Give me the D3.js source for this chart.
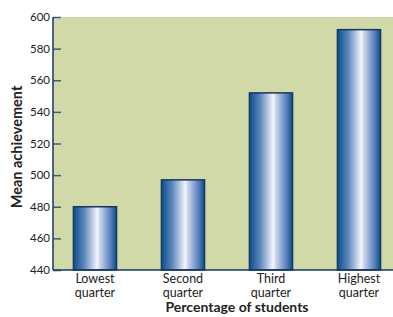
<!DOCTYPE html>
<html>
<head>
<meta charset="utf-8">
<script src="https://cdn.jsdelivr.net/npm/d3@7"></script>
<style>
	body { margin: 0; background: #fff; }
	text { font-family: Lato, "Open Sans", sans-serif; fill: #222; }
</style>
</head>
<body>
<div id="chart"></div>
<script>
var categories = [["Lowest", "quarter"], ["Second", "quarter"], ["Third", "quarter"], ["Highest", "quarter"]];
var values = [480, 497, 552, 592];
var yTicks = [440, 460, 480, 500, 520, 540, 560, 580, 600];

var width = 393,
	height = 317,
	plotLeft = 53,
	plotTop = 17,
	plotBottom = 270,
	plotRight = 393;

var svg = d3.select("#chart").append("svg")
	.attr("width", width)
	.attr("height", height);

var grad = svg.append("defs").append("linearGradient")
	.attr("id", "barGrad")
	.attr("x1", "0%").attr("x2", "100%").attr("y1", "0%").attr("y2", "0%");
[["0%", "#0b4f8f"], ["25%", "#5d86bb"], ["55%", "#f4f6fb"], ["62%", "#c8d3ea"], ["85%", "#5d83bd"], ["100%", "#0b4f8f"]]
	.forEach(function(s) {
		grad.append("stop").attr("offset", s[0]).attr("stop-color", s[1]);
	});

var x = d3.scaleBand()
	.domain(d3.range(categories.length))
	.range([51, 403])
	.paddingInner(0.51)
	.paddingOuter(0.255);

var y = d3.scaleLinear()
	.domain([440, 600])
	.range([plotBottom, plotTop]);

// plot background
svg.append("rect")
	.attr("x", plotLeft)
	.attr("y", plotTop)
	.attr("width", plotRight - plotLeft)
	.attr("height", plotBottom - plotTop)
	.attr("fill", "#d2d9a9");

// bars
svg.selectAll(".bar")
	.data(values)
	.enter().append("rect")
	.attr("class", "bar")
	.attr("x", function(d, i) { return x(i); })
	.attr("y", function(d) { return y(d); })
	.attr("width", x.bandwidth())
	.attr("height", function(d) { return y(440) - y(d); })
	.attr("fill", "url(#barGrad)")
	.attr("stroke", "#17365f")
	.attr("stroke-width", 1.5);

// y axis
var yAxis = svg.append("g")
	.attr("transform", "translate(" + plotLeft + ",0)")
	.call(d3.axisRight(y).tickValues(yTicks).tickSize(8).tickFormat(""));
yAxis.select(".domain").remove();
yAxis.selectAll("line").attr("stroke", "#3a5f86").attr("stroke-width", 1.5);

svg.selectAll(".ylab")
	.data(yTicks)
	.enter().append("text")
	.attr("class", "ylab")
	.attr("x", plotLeft - 3)
	.attr("y", function(d) { return y(d); })
	.attr("dy", "0.35em")
	.attr("text-anchor", "end")
	.style("font-size", "11.5px")
	.text(function(d) { return d; });

svg.append("line")
	.attr("x1", plotLeft).attr("x2", plotLeft)
	.attr("y1", plotTop).attr("y2", plotBottom)
	.attr("stroke", "#17365f").attr("stroke-width", 1.5);
svg.append("line")
	.attr("x1", plotLeft).attr("x2", plotRight)
	.attr("y1", plotBottom).attr("y2", plotBottom)
	.attr("stroke", "#17365f").attr("stroke-width", 1.5);

// category labels, one text per line
categories.forEach(function(d, i) {
	d.forEach(function(line, j) {
		svg.append("text")
			.attr("class", "cat")
			.attr("x", x(i) + x.bandwidth() / 2)
			.attr("y", 283 + j * 13.5)
			.attr("text-anchor", "middle")
			.style("font-size", "12.5px")
			.text(line);
	});
});

// axis titles
svg.append("text")
	.attr("x", 237)
	.attr("y", 312)
	.attr("text-anchor", "middle")
	.style("font-size", "14px")
	.style("font-weight", "bold")
	.text("Percentage of students");

svg.append("text")
	.attr("transform", "translate(22,147) rotate(-90)")
	.attr("text-anchor", "middle")
	.style("font-size", "14.5px")
	.style("font-weight", "bold")
	.text("Mean achievement");
</script>
</body>
</html>
